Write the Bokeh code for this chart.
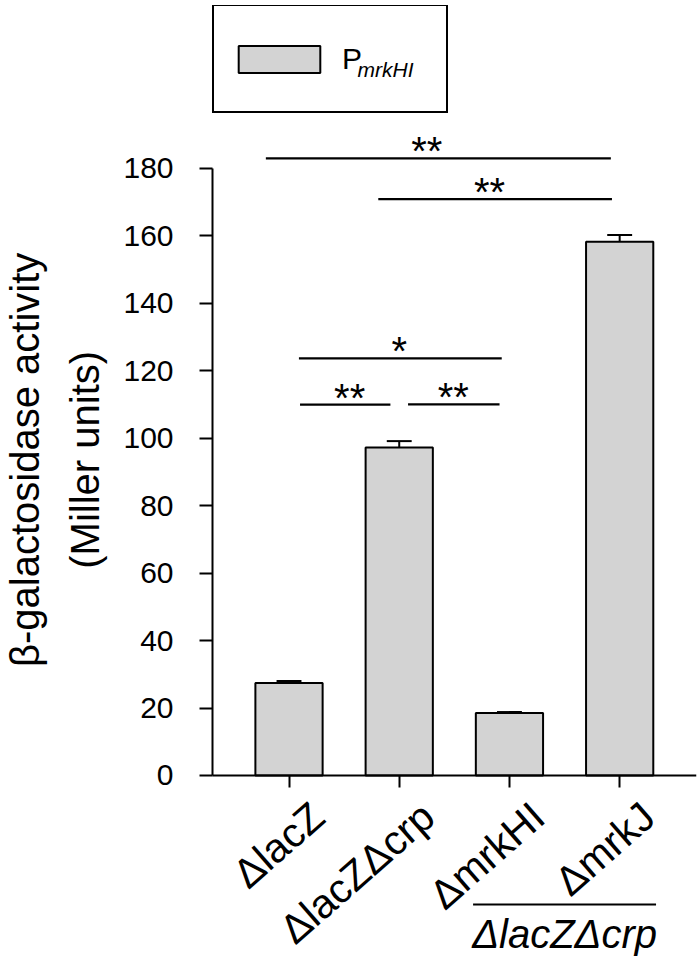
import math
from bokeh.plotting import figure
from bokeh.models import (Range1d, LinearAxis, FixedTicker, Legend, LegendItem,
                          Label, ColumnDataSource)
from bokeh.core.properties import value
from bokeh.embed import file_html
from bokeh.resources import INLINE

# ---------------- data ----------------
strains = ["ΔlacZ", "ΔlacZΔcrp", "ΔmrkHI", "ΔmrkJ"]
activity = [27.4, 97.2, 18.5, 158.2]
sem = [0.6, 1.9, 0.3, 2.0]
y_ticks = [0, 20, 40, 60, 80, 100, 120, 140, 160, 180]

# significance brackets (x in bar-index units, y in Miller units)
sig_start = [-0.21, 0.81, 0.09, 0.10, 1.08]
sig_end = [2.92, 2.93, 1.93, 0.92, 1.91]
sig_level = [182.9, 170.8, 123.6, 109.9, 110.0]
sig_text = ["**", "**", "*", "**", "**"]
sig_text_x = [1.25, 1.82, 1.00, 0.55, 1.49]

group_label = "ΔlacZΔcrp"
group_members = [2, 3]
legend_main = "P"
legend_sub = "mrkHI"
y_title = ["β-galactosidase activity", "(Miller units)"]

# ---------------- layout / style ----------------
FONT = "Liberation Sans"
X_START, X_END = -2.6175, 3.697   # whole canvas width in bar-index units
Y_START, Y_END = -55.72, 228.2
Y_AXIS_X = -0.694                 # where the value axis stands
GROUP_LINE_Y = -38.2              # vertical place of the group bar (below axis)
xs = list(range(len(strains)))

p = figure(width=700, height=963,
           x_range=Range1d(X_START, X_END), y_range=Range1d(Y_START, Y_END),
           x_axis_type=None, y_axis_type=None,
           output_backend="svg", toolbar_location=None,
           min_border_left=0, min_border_right=4,
           min_border_top=5, min_border_bottom=0)
p.outline_line_color = None
p.background_fill_color = "white"

# y axis
yaxis = LinearAxis(ticker=FixedTicker(ticks=y_ticks), bounds=(0, 180),
                   fixed_location=Y_AXIS_X)
yaxis.axis_line_width = 2
yaxis.major_tick_line_width = 2
yaxis.major_tick_out = 13
yaxis.major_tick_in = 0
yaxis.minor_tick_line_color = None
yaxis.major_label_standoff = 26
yaxis.major_label_text_font = FONT
yaxis.major_label_text_font_size = "30px"
yaxis.major_label_text_color = "black"
p.add_layout(yaxis, "left")

# x axis at y = 0 (ticks at bar centres)
xaxis = LinearAxis(ticker=FixedTicker(ticks=xs), fixed_location=0,
                   bounds=(Y_AXIS_X, X_END))
xaxis.axis_line_width = 2
xaxis.major_tick_line_width = 2
xaxis.major_tick_out = 12
xaxis.major_tick_in = 0
xaxis.minor_tick_line_color = None
xaxis.major_label_text_color = None
p.add_layout(xaxis, "below")

# y-axis title (two lines, centred on the axis)
y_mid = (min(y_ticks) + max(y_ticks)) / 2
title_style = dict(angle=math.pi / 2, text_align="center", text_baseline="alphabetic",
                   y_offset=-12,
                   text_font=value(FONT), text_font_size="40px", text_color="black")
p.text(x=[Y_AXIS_X], y=[y_mid], text=[y_title[0]], x_offset=-188, **title_style)
p.text(x=[Y_AXIS_X], y=[y_mid], text=[y_title[1]], x_offset=-128, **title_style)

# bars and error bars
src = ColumnDataSource(dict(
    x=xs, top=activity,
    err_top=[a + e for a, e in zip(activity, sem)],
    cap_l=[x - 0.113 for x in xs], cap_r=[x + 0.113 for x in xs],
))
bars = p.vbar(x="x", top="top", width=0.61, source=src,
              fill_color="#d3d3d3", line_color="black", line_width=2)
p.segment(x0="x", y0="top", x1="x", y1="err_top", source=src,
          line_color="black", line_width=2)
p.segment(x0="cap_l", y0="err_top", x1="cap_r", y1="err_top", source=src,
          line_color="black", line_width=2)

# significance brackets
sig_src = ColumnDataSource(dict(
    x0=sig_start, x1=sig_end, y=sig_level, text=sig_text, xm=sig_text_x,
))
p.segment(x0="x0", y0="y", x1="x1", y1="y", source=sig_src,
          line_color="black", line_width=2.2)
p.text(x="xm", y="y", text="text", source=sig_src,
       text_align="center", text_baseline="alphabetic", y_offset=-7,
       text_font=value(FONT), text_font_size="40px", text_color="black")

# rotated category labels
lab_src = ColumnDataSource(dict(x=xs, y=[0] * len(xs), name=strains))
p.text(x="x", y="y", text="name", source=lab_src,
       angle=0.72, text_align="right", text_baseline="alphabetic",
       x_offset=29, y_offset=35,
       text_font=value(FONT), text_font_size="41px", text_color="black")

# group bar + label under the two mutants
g_lo = min(group_members) - 0.33
g_hi = max(group_members) + 0.33
grp_src = ColumnDataSource(dict(x0=[g_lo], x1=[g_hi], y=[GROUP_LINE_Y],
                                xm=[(g_lo + g_hi) / 2], text=[group_label]))
p.segment(x0="x0", y0="y", x1="x1", y1="y", source=grp_src,
          line_color="black", line_width=2)
p.text(x="xm", y="y", text="text", source=grp_src,
       text_align="center", text_baseline="alphabetic", y_offset=30,
       text_font=value(FONT), text_font_size="40px", text_font_style="italic",
       text_color="black")

# legend (bottom-left corner given in screen px from the frame's bottom-left)
legend = Legend(items=[LegendItem(label=legend_main, renderers=[bars])],
                location=(212, 850), margin=0, padding=14, spacing=0,
                glyph_width=102, glyph_height=34, label_standoff=12,
                label_width=90, label_height=77,
                border_line_color="black", border_line_width=2,
                border_line_alpha=1.0, background_fill_color=None,
                label_text_font=FONT, label_text_font_size="30px",
                label_text_color="black")
p.add_layout(legend)
p.add_layout(Label(x=0.622, y=209.3, text=legend_sub, text_font=FONT,
                   text_font_size="21px", text_font_style="italic",
                   text_baseline="alphabetic", text_color="black",
                   level="overlay"))

open("out.html", "w").write(file_html(p, INLINE))
